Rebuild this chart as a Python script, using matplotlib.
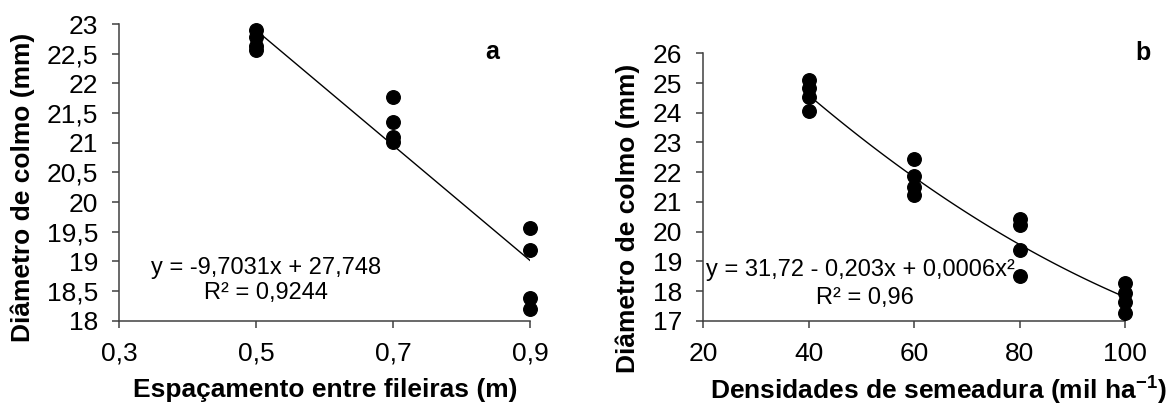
import numpy as np
import matplotlib
matplotlib.use("Agg")
import matplotlib.pyplot as plt

plt.rcParams['font.family'] = ['Liberation Sans', 'DejaVu Sans']
plt.rcParams['mathtext.fontset'] = 'custom'
plt.rcParams['mathtext.rm'] = 'Liberation Sans'
plt.rcParams['mathtext.bf'] = 'Liberation Sans:bold'

# panel a - row spacing
espac = [0.5, 0.5, 0.5, 0.5, 0.7, 0.7, 0.7, 0.7, 0.9, 0.9, 0.9, 0.9]
diam_a = [22.90, 22.78, 22.63, 22.57, 21.77, 21.35, 21.10, 21.02, 19.57, 19.19, 18.38, 18.19]
coef_a = [-9.7031, 27.748]
xticks_a = [0.3, 0.5, 0.7, 0.9]
yticks_a = [18, 18.5, 19, 19.5, 20, 20.5, 21, 21.5, 22, 22.5, 23]

# panel b - sowing density
dens = [40, 40, 40, 40, 60, 60, 60, 60, 80, 80, 80, 80, 100, 100, 100, 100]
diam_b = [25.10, 24.82, 24.52, 24.05, 22.45, 21.87, 21.51, 21.22,
          20.44, 20.22, 19.38, 18.50, 18.28, 17.92, 17.64, 17.25]
xticks_b = [20, 40, 60, 80, 100]
yticks_b = [17, 18, 19, 20, 21, 22, 23, 24, 25, 26]

def comma(v):
    s = ('%g' % v)
    return s.replace('.', ',')

axcol = '#404040'

def style_axis(ax):
    ax.spines['top'].set_visible(False)
    ax.spines['right'].set_visible(False)
    for s in ['left', 'bottom']:
        ax.spines[s].set_color(axcol)
        ax.spines[s].set_linewidth(1.1)
    ax.tick_params(axis='both', direction='out', length=5, width=1.1, color=axcol,
                   labelsize=19, pad=10)

fig = plt.figure(figsize=(11.68, 4.05), dpi=100)
ax1 = fig.add_axes([0.1019, 0.2081, 0.3519, 0.7326])
ax2 = fig.add_axes([0.6019, 0.2081, 0.3613, 0.6602])

# --- a
ax1.scatter(espac, diam_a, s=95, color='black', zorder=3, clip_on=False)
xl = np.linspace(0.5, 0.9, 50)
ax1.plot(xl, np.polyval(coef_a, xl), color='black', lw=1)
ax1.set_xlim(0.3, 0.9)
ax1.set_ylim(18, 23)
ax1.set_xticks(xticks_a)
ax1.set_xticklabels([comma(v) for v in xticks_a])
ax1.set_yticks(yticks_a)
ax1.set_yticklabels([comma(v) for v in yticks_a])
style_axis(ax1)
ax1.set_xlabel('Espaçamento entre fileiras (m)', fontsize=19, fontweight='bold', va='center')
ax1.xaxis.set_label_coords(0.502, -0.234)
ax1.set_ylabel('Diâmetro de colmo (mm)', fontsize=19, fontweight='bold', va='center')
ax1.yaxis.set_label_coords(-0.234, 0.451)
ax1.text(0.358, 0.178, 'y = -9,7031x + 27,748', transform=ax1.transAxes,
         fontsize=17, ha='center', va='center')
ax1.text(0.358, 0.093, 'R² = 0,9244', transform=ax1.transAxes,
         fontsize=17, ha='center', va='center')
ax1.text(0.907, 0.905, 'a', transform=ax1.transAxes, fontsize=18,
         fontweight='bold', ha='center', va='center')

# --- b
ax2.scatter(dens, diam_b, s=95, color='black', zorder=3, clip_on=False)
coef_b = np.polyfit(dens, diam_b, 2)
xq = np.linspace(40, 100, 100)
ax2.plot(xq, np.polyval(coef_b, xq), color='black', lw=1)
ax2.set_xlim(20, 100)
ax2.set_ylim(17, 26)
ax2.set_xticks(xticks_b)
ax2.set_yticks(yticks_b)
style_axis(ax2)
ax2.set_xlabel('Densidades de semeadura (mil ha$^{\\mathbf{-1}}$)', fontsize=19,
               fontweight='bold', va='center')
ax2.xaxis.set_label_coords(0.557, -0.259)
ax2.set_ylabel('Diâmetro de colmo (mm)', fontsize=19, fontweight='bold', va='center')
ax2.yaxis.set_label_coords(-0.178, 0.384)
ax2.text(0.374, 0.19, 'y = 31,72 - 0,203x + 0,0006x²', transform=ax2.transAxes,
         fontsize=17, ha='center', va='center')
ax2.text(0.384, 0.085, 'R² = 0,96', transform=ax2.transAxes,
         fontsize=17, ha='center', va='center')
ax2.text(1.042, 1.0, 'b', transform=ax2.transAxes, fontsize=18,
         fontweight='bold', ha='center', va='center')

plt.savefig('out.png', dpi=100)
